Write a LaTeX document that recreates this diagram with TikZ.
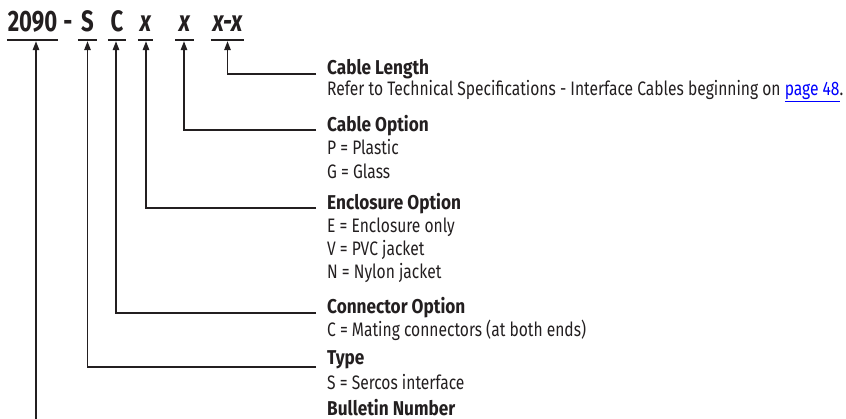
\documentclass[tikz,border=0pt]{standalone}
\usepackage{fontspec}
\setmainfont[FakeStretch=0.80, BoldFeatures={FakeStretch=0.86}]{Fira Sans}
\newfontfamily\codefont[FakeStretch=0.75]{Fira Sans}
\usetikzlibrary{arrows.meta}
\definecolor{ink}{HTML}{231F20}
\definecolor{linkblue}{HTML}{0000FF}
\begin{document}
\begin{tikzpicture}[x=1pt,y=-1pt,
  codeseg/.style={font=\codefont\fontsize{29.5}{32}\selectfont\bfseries, text=ink, inner sep=0pt, text depth=0pt, anchor=base, minimum width=#1},
  head/.style={font=\fontsize{20}{22}\selectfont\bfseries, text=ink, inner sep=0pt, anchor=base west},
  desc/.style={font=\fontsize{19.5}{21}\selectfont, text=ink, inner sep=0pt, anchor=base west},
  uline/.style={draw=ink, line width=1.4pt},
  arr/.style={draw=ink, line width=1.4pt, -{Triangle[length=9pt,width=6.5pt]}},
]
\useasboundingbox (0,0) rectangle (846,419);

% code segments
\node[codeseg=51] (n2090) at (32.5,32) {2090};
\node[codeseg=4] (ndash) at (68,32) {-};
\node[codeseg=19] (nS) at (87.5,32) {S};
\node[codeseg=18] (nC) at (117,32) {C};
\node[codeseg=15] (nX1) at (145.5,32) {\itshape x};
\node[codeseg=18] (nX2) at (184.5,32) {\itshape x};
\node[codeseg=33] (nXX) at (227.5,32) {\itshape x-x};

\foreach \n in {n2090,nS,nC,nX1,nX2,nXX}
  \draw[uline] ([yshift=-8pt]\n.south west) -- ([yshift=-8pt]\n.south east);

% headings and descriptions
\node[head] (hLen) at (327,75) {Cable Length};
\node[desc] (dLen) at (327,96) {Refer to Technical Specifications - Interface Cables beginning on \textcolor{linkblue}{\underline{page 48}}.};

\node[head] (hOpt) at (327,132) {Cable Option};
\node[desc] (dOpt1) at (327,155) {P = Plastic};
\node[desc] (dOpt2) at (327,179) {G = Glass};

\node[head] (hEnc) at (327,210) {Enclosure Option};
\node[desc] (dEnc1) at (327,233) {E = Enclosure only};
\node[desc] (dEnc2) at (327,256) {V = PVC jacket};
\node[desc] (dEnc3) at (327,279) {N = Nylon jacket};

\node[head] (hCon) at (327,314) {Connector Option};
\node[desc] (dCon) at (327,337) {C = Mating connectors (at both ends)};

\node[head] (hTyp) at (327,365) {Type};
\node[desc] (dTyp) at (327,390) {S = Sercos interface};

\node[head] (hBul) at (327,415) {Bulletin Number};

% connectors
\draw[arr] ([xshift=-11pt,yshift=1pt]hLen.base west) -| ([yshift=-9pt]nXX.south);
\draw[arr] ([xshift=-11pt,yshift=2pt]hOpt.base west) -| ([xshift=-0.5pt,yshift=-9pt]nX2.south);
\draw[arr] ([xshift=-11pt,yshift=2pt]hEnc.base west) -| ([xshift=0.5pt,yshift=-9pt]nX1.south);
\draw[arr] ([xshift=-11pt,yshift=1pt]hCon.base west) -| ([xshift=-1pt,yshift=-9pt]nC.south);
\draw[arr] ([xshift=-11pt,yshift=-2pt]hTyp.base west) -| ([yshift=-9pt]nS.south);
\coordinate (bot) at (0,425);
\draw[arr] ([xshift=3.5pt]n2090.south |- bot) -- ([xshift=3.5pt,yshift=-9pt]n2090.south);
\end{tikzpicture}
\end{document}
